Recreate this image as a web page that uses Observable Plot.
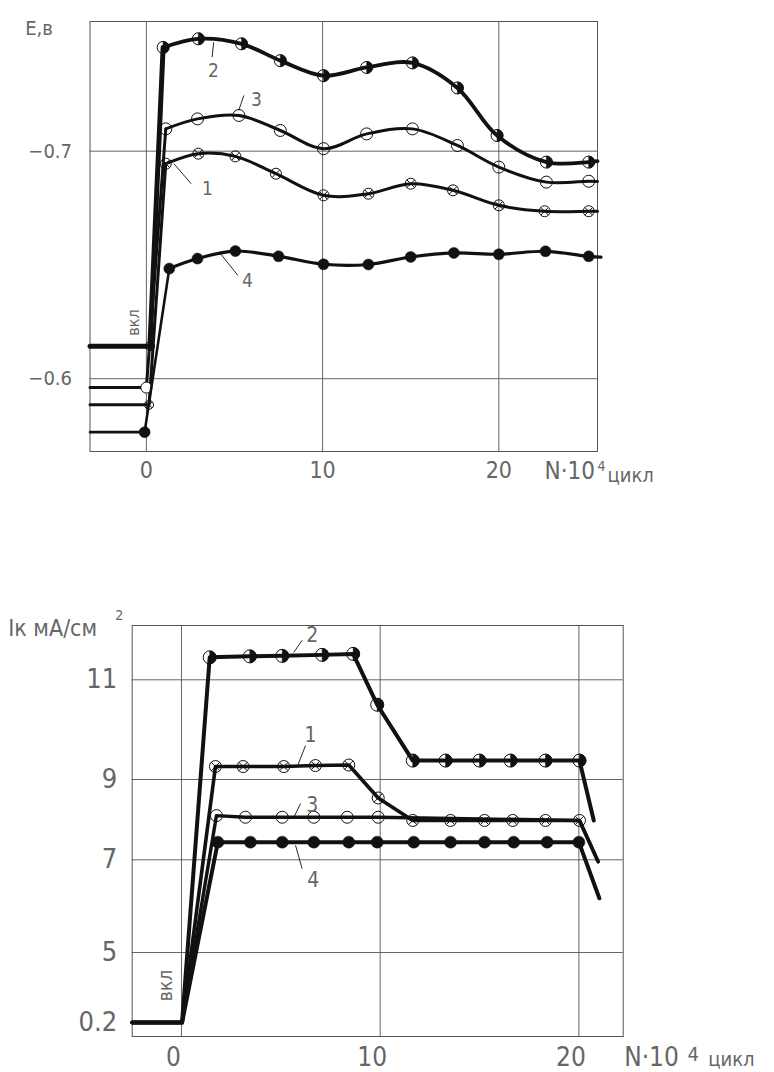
<!DOCTYPE html>
<html><head><meta charset="utf-8">
<script src="https://cdn.jsdelivr.net/npm/d3@7"></script>
<script src="https://cdn.jsdelivr.net/npm/@observablehq/plot@0.6"></script>
<style>
body{margin:0;background:#fff;}
#top svg,#bottom svg{display:block;}
</style>
</head><body>
<div id="top"></div><div id="bottom"></div>
<script>
// ================= TOP CHART: E, В vs N·10^4 cycles =================
const topTicksX = [0, 10, 20];
const topTicksY = [-0.7, -0.6];
const topDomainX = [-3.2, 25.6];
const topDomainY = [-0.568, -0.757];
const topSeries = ["1", "2", "3", "4"];
const topStartN = [0.15, 0.2, 0, -0.1];
const topStartE = [-0.5885, -0.6143, -0.5961, -0.5765];
const topN1 = [1.1, 2.95, 5.05, 7.35, 10.05, 12.6, 15.0, 17.4, 20.0, 22.6, 25.1];
const topE1 = [-0.6945, -0.6989, -0.6977, -0.6901, -0.6806, -0.6813, -0.6857, -0.6828, -0.6762, -0.6736, -0.6736];
const topN2 = [0.95, 2.95, 5.4, 7.6, 10.05, 12.5, 15.1, 17.65, 19.9, 22.7, 25.1];
const topE2 = [-0.7456, -0.7494, -0.7472, -0.7398, -0.7332, -0.7368, -0.7388, -0.7278, -0.7069, -0.6952, -0.6952];
const topN3 = [1.1, 2.9, 5.25, 7.6, 10.05, 12.5, 15.1, 17.65, 20.0, 22.7, 25.1];
const topE3 = [-0.7098, -0.7142, -0.7157, -0.7091, -0.7011, -0.7076, -0.7098, -0.7025, -0.6930, -0.6864, -0.6868];
const topN4 = [1.3, 2.9, 5.05, 7.5, 10.05, 12.6, 15.0, 17.45, 20.0, 22.65, 25.1];
const topE4 = [-0.6484, -0.6528, -0.6561, -0.6538, -0.6503, -0.6502, -0.6535, -0.6553, -0.6547, -0.6560, -0.6538];
const topEndN = [25.6, 25.6, 25.6, 25.8];
const topEndE = [-0.6736, -0.6956, -0.6867, -0.6534];
// label positions (data units)
const topLabelN = [3.47, 3.81, 6.25, 5.74];
const topLabelE = [-0.6836, -0.7355, -0.7227, -0.6432];
const topLeadN1 = [1.56, 3.82, 5.24, 4.21];
const topLeadE1 = [-0.6945, -0.7479, -0.7179, -0.6549];
const topLeadN2 = [2.54, 3.73, 5.53, 5.19];
const topLeadE2 = [-0.6857, -0.7413, -0.7245, -0.6454];
const topOnN = -0.73, topOnE = -0.6247;

// ================= BOTTOM CHART: Iк, мА/см² vs N·10^4 cycles =================
const botTicksX = [0, 10, 20];
const botTicksY = [0.2, 5, 7, 9, 11];
const botRangeY = [522, 452, 359.3, 279, 179.3]; // hand-drawn, uneven tick spacing
const botDomainX = [-2.48, 22.23];
const botSeries = ["1", "2", "3", "4"];
const botBaseI = 0.2;
const botOnN = 0.03;
const botN1 = [1.71, 3.1, 5.15, 6.74, 8.42, 9.9, 11.64, 13.54, 15.25, 16.67, 18.32, 20.03];
const botI1 = [9.26, 9.26, 9.26, 9.28, 9.29, 8.54, 7.98, 7.98, 7.98, 7.98, 7.98, 7.98];
const botN2 = [1.42, 3.44, 5.07, 7.08, 8.64, 9.85, 11.64, 13.29, 15.0, 16.56, 18.32, 20.03];
const botI2 = [11.45, 11.47, 11.48, 11.5, 11.52, 10.5, 9.38, 9.38, 9.38, 9.38, 9.38, 9.38];
const botN3 = [1.76, 3.22, 5.07, 6.66, 8.34, 9.9];
const botI3 = [8.10, 8.06, 8.06, 8.06, 8.06, 8.06];
const botN3Line = [20.03];
const botI3Line = [7.98];
const botN4 = [1.83, 3.47, 5.07, 6.66, 8.42, 9.85, 11.69, 13.54, 15.25, 16.72, 18.4, 20.0];
const botI4 = [7.44, 7.44, 7.44, 7.44, 7.44, 7.44, 7.44, 7.44, 7.44, 7.44, 7.44, 7.44];
const botEndN = [20.97, 20.75, 20.97, 21.03];
const botEndI = [6.96, 7.98, 6.96, 6.17];
const botLabelN = [6.49, 6.58, 6.58, 6.63];
const botLabelI = [9.88, 11.89, 8.35, 6.55];
const botLeadN1 = [5.87, 5.65, 5.65, 5.74];
const botLeadI1 = [9.30, 11.55, 8.05, 7.36];
const botLeadN2 = [6.24, 6.07, 5.99, 6.07];
const botLeadI2 = [9.68, 11.79, 8.40, 6.81];
const botOnLabelN = -0.77, botOnLabelI = 2.74;

// ================= helpers =================
const INK = "#111";
const TXT = "#666";
const FONT = "'Liberation Sans Narrow','DejaVu Sans Condensed','Roboto Condensed','Liberation Sans',sans-serif";

const halfRight = {draw(ctx, size) {
  const r = Math.sqrt(size / Math.PI);
  ctx.moveTo(0, -r); ctx.arc(0, 0, r, -Math.PI / 2, Math.PI / 2); ctx.closePath();
}};
const crossCircle = {draw(ctx, size) {
  const r = Math.sqrt(size / Math.PI);
  ctx.moveTo(r, 0); ctx.arc(0, 0, r, 0, 2 * Math.PI);
  const k = r * Math.SQRT1_2;
  ctx.moveTo(-k, -k); ctx.lineTo(k, k); ctx.moveTo(-k, k); ctx.lineTo(k, -k);
}};

function markers(data, series, r, openFill = "none") {
  const b = {x: "n", y: "v", r};
  if (series === "1") return [Plot.dot(data, {...b, symbol: crossCircle, fill: "none", stroke: INK, strokeWidth: 1})];
  if (series === "2") return [
    Plot.dot(data, {...b, fill: "none", stroke: INK, strokeWidth: 1}),
    Plot.dot(data, {...b, symbol: halfRight, fill: INK, stroke: INK, strokeWidth: 0.5})
  ];
  if (series === "3") return [Plot.dot(data, {...b, fill: openFill, stroke: INK, strokeWidth: 1})];
  return [Plot.dot(data, {...b, fill: INK, stroke: INK, strokeWidth: 0.5})];
}
const zip = (ns, vs) => ns.map((n, i) => ({n, v: vs[i]}));
const note = (txt, opts) => Plot.text([txt], {text: d => d, lineAnchor: "middle", fill: TXT, ...opts});

// ================= TOP PLOT =================
const topN = [topN1, topN2, topN3, topN4];
const topE = [topE1, topE2, topE3, topE4];
const topRiseW = [3, 5, 3, 2.6];
const topCurveW = [3, 3.8, 3, 3.2];
const topR = [5.5, 6, 6, 5.5];
const topStartR = [4.5, 4.5, 5.5, 5.5];

const topMarks = [
  Plot.gridX({ticks: topTicksX, stroke: "#555", strokeOpacity: 1, strokeWidth: 0.9}),
  Plot.gridY({ticks: topTicksY, stroke: "#555", strokeOpacity: 1, strokeWidth: 0.9}),
  Plot.frame({stroke: "#555", strokeWidth: 1})
];
topSeries.forEach((s, i) => {
  const pts = zip(topN[i], topE[i]);
  const start = {n: topStartN[i], v: topStartE[i]};
  topMarks.push(Plot.line([{n: topDomainX[0], v: topStartE[i]}, start, pts[0]], {x: "n", y: "v", stroke: INK, strokeWidth: topRiseW[i]}));
  topMarks.push(Plot.line([...pts, {n: topEndN[i], v: topEndE[i]}], {x: "n", y: "v", stroke: INK, strokeWidth: topCurveW[i], curve: "catmull-rom"}));
  topMarks.push(...markers(pts, s, topR[i]));
  topMarks.push(...markers([start], s, topStartR[i], "white"));
});
topMarks.push(
  Plot.link(topSeries, {x1: (d, i) => topLeadN1[i], y1: (d, i) => topLeadE1[i], x2: (d, i) => topLeadN2[i], y2: (d, i) => topLeadE2[i], stroke: INK, strokeWidth: 0.9}),
  Plot.text(topSeries, {x: (d, i) => topLabelN[i], y: (d, i) => topLabelE[i], text: d => d, fontSize: 19, fill: TXT}),
  Plot.text(["вкл"], {x: () => topOnN, y: () => topOnE, text: d => d, rotate: -90, fontSize: 16, fill: TXT}),
  Plot.axisX({ticks: topTicksX, tickSize: 0, tickPadding: 10, fontSize: 23, color: TXT, label: null}),
  Plot.axisY({ticks: topTicksY, tickSize: 0, tickPadding: 18, fontSize: 20, color: TXT, label: null, tickFormat: d => String(d).replace("-", "\u2212")}),
  note("E,в", {frameAnchor: "top-left", textAnchor: "middle", dx: -51, dy: 7, fontSize: 20}),
  note("N\u00b710", {frameAnchor: "bottom-right", textAnchor: "start", dx: -53, dy: 20, fontSize: 24}),
  note("4", {frameAnchor: "bottom-right", textAnchor: "middle", dx: 4, dy: 15, fontSize: 14}),
  note("цикл", {frameAnchor: "bottom-right", textAnchor: "start", dx: 10, dy: 24, fontSize: 20})
);

const topPlot = Plot.plot({
  width: 774, height: 500,
  marginLeft: 89.5, marginRight: 177, marginTop: 21, marginBottom: 49,
  x: {domain: topDomainX},
  y: {domain: topDomainY},
  style: {fontFamily: FONT, background: "white", overflow: "visible"},
  marks: topMarks
});
document.getElementById("top").append(topPlot);

// ================= BOTTOM PLOT =================
const botN = [botN1, botN2, botN3, botN4];
const botI = [botI1, botI2, botI3, botI4];
const botW = [3.6, 4, 3.4, 4];
const botR = [6, 6.5, 6, 6];

const botMarks = [
  Plot.gridX({ticks: botTicksX, stroke: "#555", strokeOpacity: 1, strokeWidth: 0.9}),
  Plot.gridY({ticks: botTicksY.filter(d => d !== botBaseI), stroke: "#555", strokeOpacity: 1, strokeWidth: 0.9}),
  Plot.frame({stroke: "#555", strokeWidth: 1})
];
botSeries.forEach((s, i) => {
  const pts = zip(botN[i], botI[i]);
  const extra = s === "3" ? zip(botN3Line, botI3Line) : [];
  const path = [{n: botDomainX[0], v: botBaseI}, {n: botOnN, v: botBaseI}, ...pts, ...extra, {n: botEndN[i], v: botEndI[i]}];
  botMarks.push(Plot.line(path, {x: "n", y: "v", stroke: INK, strokeWidth: botW[i], strokeLinejoin: "round"}));
});
botSeries.forEach((s, i) => {
  botMarks.push(...markers(zip(botN[i], botI[i]), s, botR[i]));
});
botMarks.push(
  Plot.link(botSeries, {x1: (d, i) => botLeadN1[i], y1: (d, i) => botLeadI1[i], x2: (d, i) => botLeadN2[i], y2: (d, i) => botLeadI2[i], stroke: INK, strokeWidth: 0.9}),
  Plot.text(botSeries, {x: (d, i) => botLabelN[i], y: (d, i) => botLabelI[i], text: d => d, fontSize: 21, fill: TXT}),
  Plot.text(["вкл"], {x: () => botOnLabelN, y: () => botOnLabelI, text: d => d, rotate: -90, fontSize: 19, fill: TXT}),
  Plot.axisX({ticks: botTicksX, tickSize: 0, tickPadding: 11, fontSize: 26, dx: -8, color: TXT, label: null}),
  Plot.axisY({ticks: botTicksY, tickSize: 0, tickPadding: 15, fontSize: 27, color: TXT, label: null, tickFormat: d => String(d)}),
  note("Iк мА/см", {frameAnchor: "top-left", textAnchor: "start", dx: -124, dy: 3, fontSize: 23}),
  note("2", {frameAnchor: "top-left", textAnchor: "middle", dx: -13, dy: -10, fontSize: 14}),
  note("N\u00b710", {frameAnchor: "bottom-right", textAnchor: "start", dx: 1, dy: 21, fontSize: 26}),
  note("4", {frameAnchor: "bottom-right", textAnchor: "middle", dx: 70, dy: 18, fontSize: 20}),
  note("цикл", {frameAnchor: "bottom-right", textAnchor: "start", dx: 85, dy: 23, fontSize: 20})
);

const botPlot = Plot.plot({
  width: 774, height: 572,
  marginLeft: 131.7, marginRight: 151.3, marginTop: 125, marginBottom: 36,
  x: {domain: botDomainX},
  y: {type: "linear", domain: botTicksY, range: botRangeY},
  style: {fontFamily: FONT, background: "white", overflow: "visible"},
  marks: botMarks
});
document.getElementById("bottom").append(botPlot);
</script>
</body></html>
